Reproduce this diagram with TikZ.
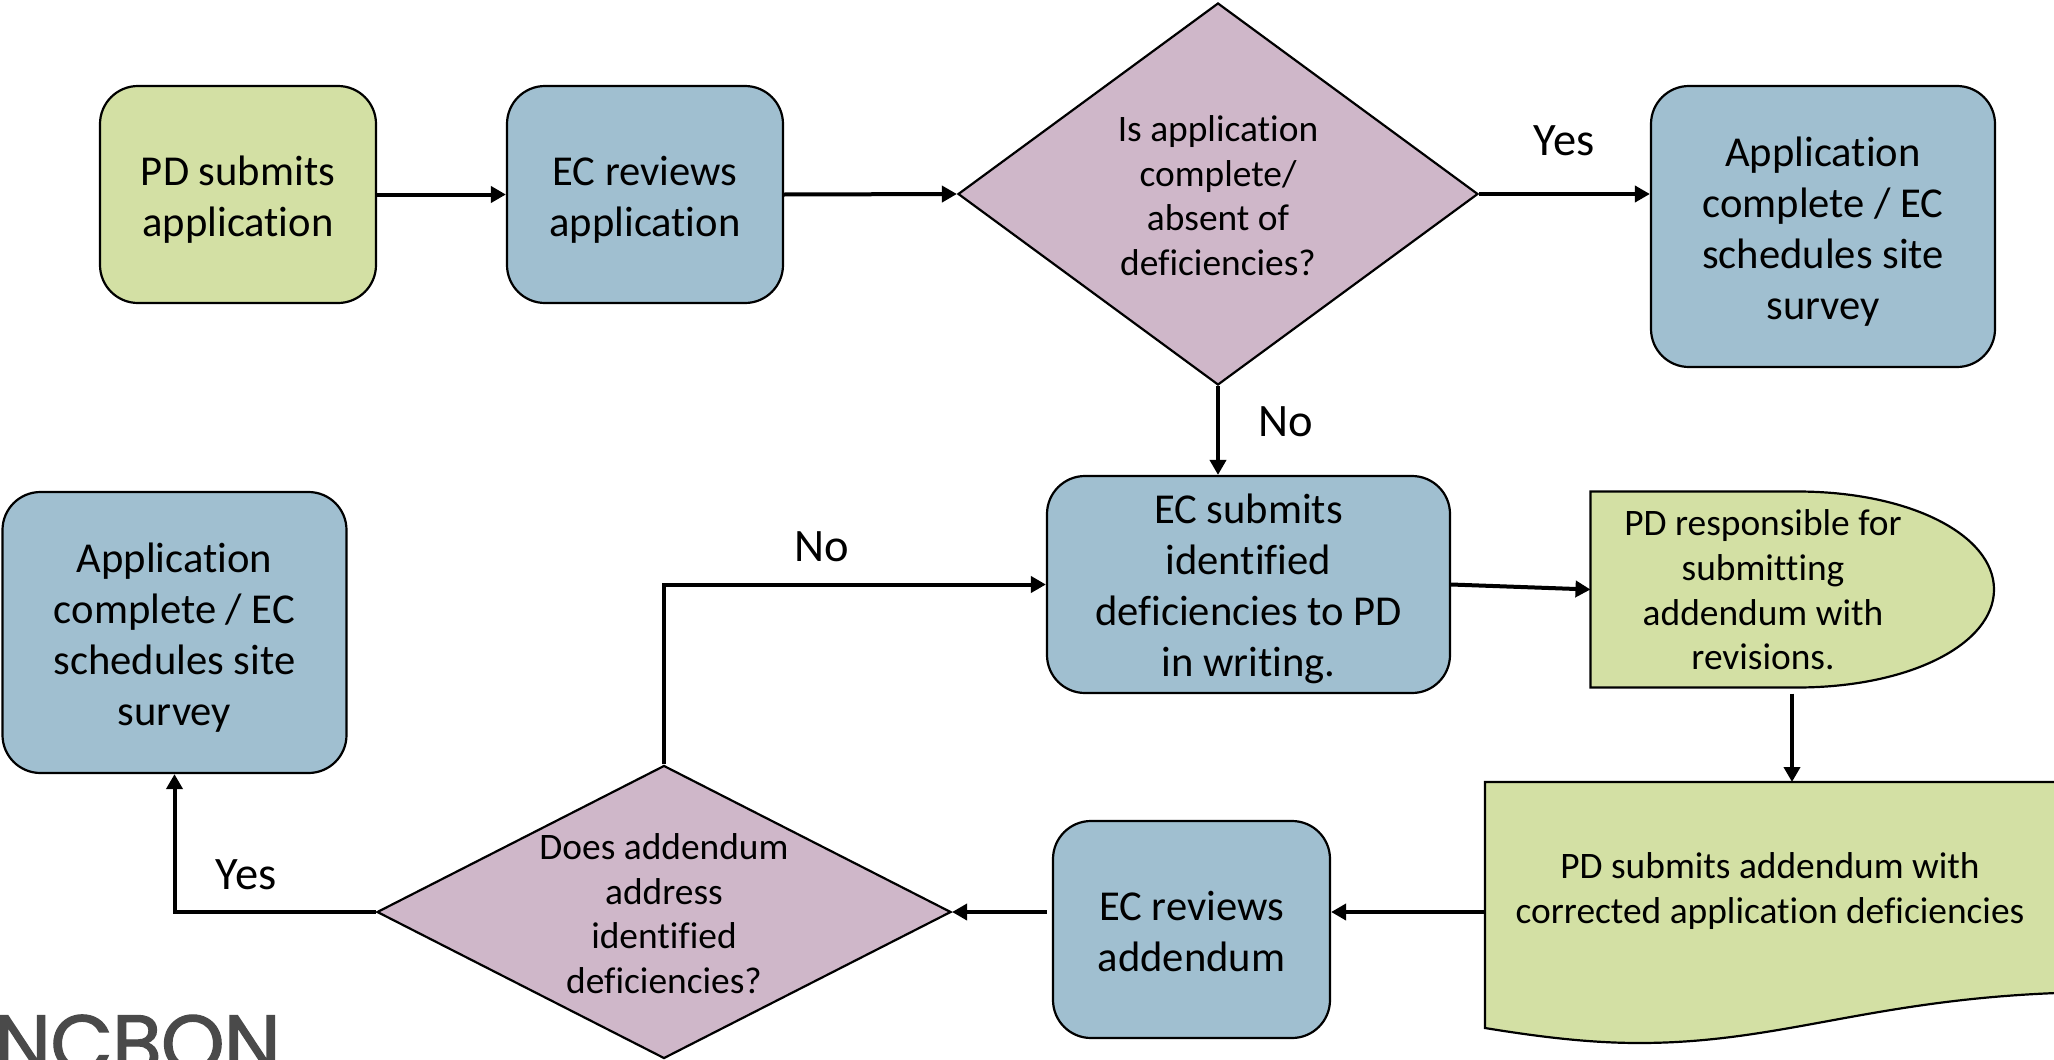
\documentclass[tikz,border=0pt]{standalone}
\usepackage{fontspec}
\setmainfont[Ligatures=NoCommon]{Carlito}
\newfontfamily\logofont[FakeBold=1.6,LetterSpace=-1]{Poppins}
\usetikzlibrary{shapes.geometric,arrows.meta}
\definecolor{boxblue}{HTML}{A0BFD0}
\definecolor{boxgreen}{HTML}{D3E0A4}
\definecolor{boxmauve}{HTML}{CFB7C9}
\definecolor{logogray}{HTML}{4A4A4A}
\tikzset{
  x=1pt,y=-1pt,
  shape border/.style={draw=black,line width=2.2pt},
  bigtext/.style={font=\fontsize{42.6}{51}\selectfont,align=center,text=black},
  smalltext/.style={font=\fontsize{37.4}{44.6}\selectfont,align=center,text=black},
  roundbox/.style={shape border,rounded corners=38pt,inner sep=0pt},
  decision/.style={diamond,shape border,fill=boxmauve,inner sep=0pt},
  ghost/.style={inner sep=0pt,outer sep=0pt},
  link/.style={line width=4pt,-{Triangle[length=15pt,width=16pt]}},
  answer/.style={font=\fontsize{46.5}{50}\selectfont,text=black},
}
\begin{document}
\begin{tikzpicture}
\useasboundingbox (0,0) rectangle (2054,1060);
\node[text=logogray,font=\logofont\fontsize{81}{90}\selectfont,anchor=base west,inner sep=0pt] (logo) at (-6,1072) {NCBON};
\node[roundbox,fill=boxgreen,minimum width=276pt,minimum height=217pt] (a) at (238,194.5) {};
\node[ghost,bigtext] (at) at (238,199.5) {PD submits\\application};
\node[roundbox,fill=boxblue,minimum width=276pt,minimum height=217pt] (b) at (645,194.5) {};
\node[ghost,bigtext] (bt) at (645,199.5) {EC reviews\\application};
\node[decision,minimum width=520pt,minimum height=382pt] (c) at (1218,194) {};
\node[ghost,smalltext] (ct) at (1218,195.5) {Is application\\complete/\\absent of\\deficiencies?};
\node[roundbox,fill=boxblue,minimum width=344pt,minimum height=281pt] (d) at (1823,226.5) {};
\node[ghost,bigtext] (dt) at (1823,231.5) {Application\\complete / EC\\schedules site\\survey};
\node[roundbox,fill=boxblue,minimum width=403pt,minimum height=217pt] (e) at (1248.5,584.5) {};
\node[ghost,bigtext] (et) at (1248.5,589) {EC submits\\identified\\deficiencies to PD\\in writing.};
\node[ghost,minimum width=403pt,minimum height=196pt] (f) at (1792,589.5) {};
\path[shape border,fill=boxgreen] (f.north west) -- (1797,491.5) .. controls (1910,491.5) and (1994,535) .. (1994,589.5) .. controls (1994,644) and (1910,687.5) .. (1797,687.5) -- (f.south west) -- cycle;
\node[ghost,smalltext] (ft) at (1763,590) {PD responsible for\\submitting\\addendum with\\revisions.};
\node[ghost,minimum width=614pt,minimum height=260pt] (g) at (1792,912) {};
\path[shape border,fill=boxgreen] (g.north west) -- (g.north east) -- (2099,992) .. controls (1880,994) and (1790,1043) .. (1639,1043) .. controls (1590,1043) and (1540,1037) .. (1485,1028) -- cycle;
\node[ghost,smalltext] (gt) at (1770,891) {PD submits addendum with\\corrected application deficiencies};
\node[roundbox,fill=boxblue,minimum width=277pt,minimum height=217pt] (h) at (1191.5,929.5) {};
\node[ghost,bigtext] (ht) at (1191.5,931.5) {EC reviews\\addendum};
\node[decision,minimum width=574pt,minimum height=293pt] (i) at (664,912) {};
\node[ghost,smalltext] (it) at (664,913.5) {Does addendum\\address\\identified\\deficiencies?};
\node[roundbox,fill=boxblue,minimum width=344pt,minimum height=281pt] (j) at (174.5,632.5) {};
\node[ghost,bigtext] (jt) at (174.5,637.5) {Application\\complete / EC\\schedules site\\survey};
\draw[link] (a.east) -- (b.west);
\draw[link] (b.east) -- (c.west);
\draw[link] (c.east) -- (c.east -| d.west);
\draw[link] (c.south) -- (c.south |- e.north);
\draw[link] (e.east) -- (f.west);
\draw[link] ([yshift=-6pt]f.south) -- (g.north);
\draw[link] (g.west) -- (g.west -| h.east);
\draw[link] (h.west |- i.east) ++(-5,0) -- (i.east);
\draw[link] (i.north) -- (i.north |- e.west) -- (e.west);
\draw[link] (i.west) -- (i.west -| j.south) -- (j.south);
\node[answer] (yes1) at (1564,141) {Yes};
\node[answer] (no1) at (1286,422) {No};
\node[answer] (no2) at (822,547) {No};
\node[answer] (yes2) at (246,875) {Yes};
\end{tikzpicture}
\end{document}
